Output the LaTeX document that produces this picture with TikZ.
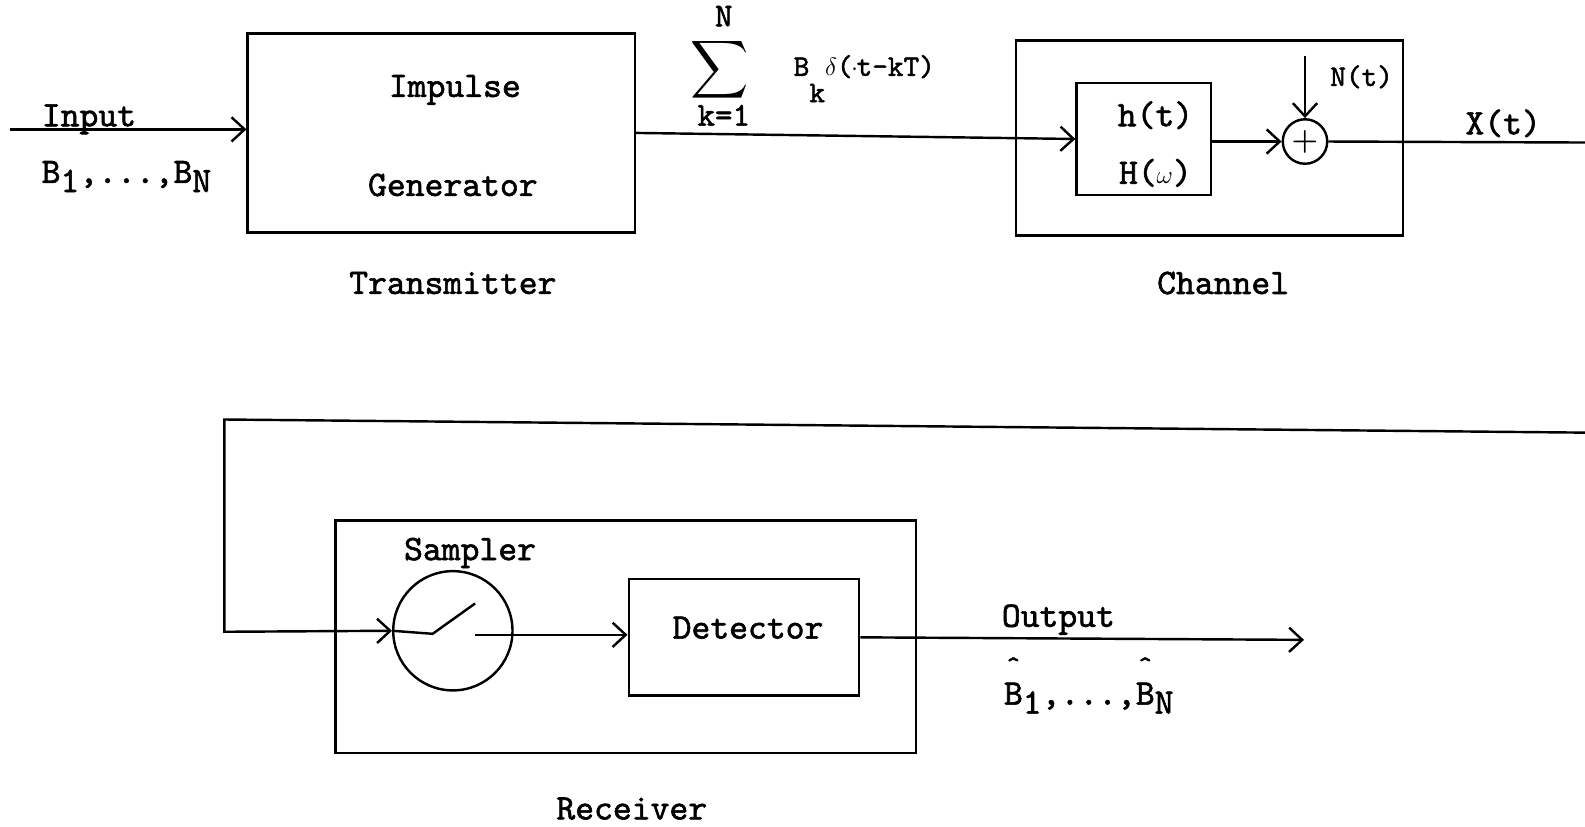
\documentclass[tikz,border=0pt]{standalone}
\usepackage{fontspec}
\setmonofont{lmmono10-regular.otf}[FakeBold=1.6]
\usepackage{graphicx}
\usetikzlibrary{arrows.meta}
\newcommand\hatB{\rlap{\makebox[0.525em]{\raisebox{29pt}{\scalebox{0.7}[0.8]{\textasciicircum}}}}B}
\begin{document}
\begin{tikzpicture}[x=1pt, y=-1pt, line width=2.4pt,
  >={Straight Barb[length=13pt,width=24pt]},
  box/.style={draw, rectangle, inner sep=0pt},
  lbl/.style={font=\ttfamily\fontsize{35.5}{38}\selectfont, inner sep=0pt},
  mlbl/.style={font=\ttfamily\fontsize{33}{35}\selectfont, inner sep=0pt},
  slbl/.style={font=\ttfamily\fontsize{29.5}{32}\selectfont, inner sep=0pt}]
\useasboundingbox (0,0) rectangle (1568,818);
% Transmitter
\node[box, minimum width=383pt, minimum height=197pt] (tx) at (436.5,131.5) {};
\node[lbl] (imp) at (450,89) {Impulse};
\node[lbl] (gen) at (448,183) {Generator};
\node[lbl] (txl) at (448,280) {Transmitter};
% input
\coordinate (in) at (10,128);
\draw[->] (in) -- (in -| tx.west);
\node[lbl] (inl) at (88,118) {Input};
\node[lbl, anchor=base west] (bin) at (40,181) {B\raisebox{-9pt}{1},...,B\raisebox{-9pt}{N}};
% sum label
\node[inner sep=0pt] (sig) at (712,69) {\scalebox{4}{$\boldmath\displaystyle\sum$}};
\node[mlbl] (sigN) at (716,16) {N};
\node[mlbl] (sigk) at (716,114) {k=1};
\node[slbl, anchor=base west] (bk) at (784,75) {B\raisebox{-26pt}{k}$\delta$(\makebox[4pt]{$\cdot$}t-kT)};
% Channel
\node[box, minimum width=383pt, minimum height=193pt] (ch) at (1196.5,136.5) {};
\node[lbl] (chl) at (1210,280) {Channel};
\node[box, minimum width=133pt, minimum height=111pt] (hb) at (1131.5,137.5) {};
\node[lbl] (ht) at (1143,114) {h(t)};
\node[lbl] (Hw) at (1143,171) {H($\omega$)};
\draw[->] (tx.east) -- (hb.west);
\node[draw, circle, minimum size=44pt, inner sep=0pt, font=\fontsize{30}{30}\selectfont\bfseries] (add) at (1291,140) {+};
\draw[->] (hb.east |- add.west) -- (add.west);
\coordinate (nt) at (1291,55);
\draw[->] (nt) -- (add.north);
\node[slbl] (ntl) at (1347,76) {N(t)};
\coordinate (xr) at (1568,141);
\draw (add.east) -- (xr);
\node[lbl] (xtl) at (1487,122) {X(t)};
% Receiver
\node[box, minimum width=574pt, minimum height=230pt] (rx) at (619,630) {};
\node[lbl] (rxl) at (625,800) {Receiver};
\node[draw, circle, minimum size=118pt, inner sep=0pt] (samp) at (448,624) {};
\node[lbl] (sampl) at (465,547) {Sampler};
\node[box, minimum width=228pt, minimum height=115pt] (det) at (736,630.5) {};
\node[lbl] (detl) at (740,621) {Detector};
% feedback
\coordinate (fr) at (1568,428);
\coordinate (fl) at (222,415);
\coordinate (fd) at (222,625);
\draw[->] (fr) -- (fl) -- (fd) -- (samp.west);
\coordinate (sw1) at (428,627);
\coordinate (sw2) at (470,597);
\draw (samp.west) -- (sw1) -- (sw2);
\coordinate (so) at (470,628);
\draw[->] (so) -- (so -| det.west);
% output
\coordinate (out) at (1290,633);
\draw[->] (det.east) -- (out);
\node[lbl] (outl) at (1047,613) {Output};
\node[lbl, anchor=base west] (bout) at (992,697) {\hatB\raisebox{-9pt}{1},...,\hatB\raisebox{-9pt}{N}};
\end{tikzpicture}
\end{document}
